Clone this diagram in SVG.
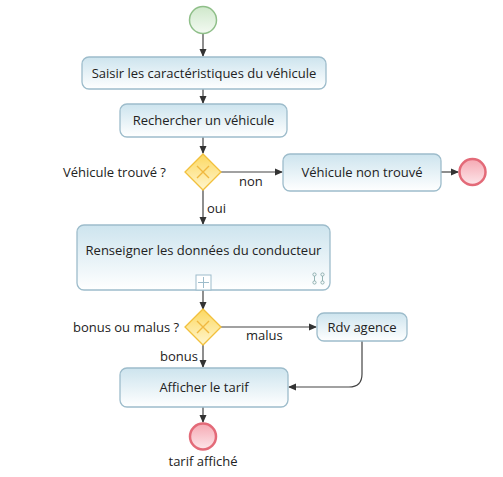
<svg xmlns="http://www.w3.org/2000/svg" width="503" height="477" viewBox="0 0 503 477">
<style>
.task{fill:url(#tg);stroke:#9dbccb;stroke-width:1.3}
.t{font-family:"Open Sans","Noto Sans",sans-serif;font-size:13px;fill:#222}
.m{text-anchor:middle}
.c{fill:none;stroke:#444;stroke-width:1.2;marker-end:url(#ah)}
.gw{fill:url(#gg);stroke:#f2c03c;stroke-width:1.3}
.gx{stroke:#f0b840;stroke-width:1.4}
.end{fill:url(#eg);stroke:#e36a78;stroke-width:2.5}
</style>
<defs>
<linearGradient id="tg" x1="0" y1="0" x2="0" y2="1"><stop offset="0" stop-color="#cde4ee"/><stop offset="1" stop-color="#ffffff"/></linearGradient>
<linearGradient id="gg" x1="0" y1="0" x2="0" y2="1"><stop offset="0" stop-color="#fcd860"/><stop offset="1" stop-color="#fff6cf"/></linearGradient>
<linearGradient id="sg" x1="0" y1="0" x2="0" y2="1"><stop offset="0" stop-color="#cfe8cb"/><stop offset="1" stop-color="#f3faf2"/></linearGradient>
<linearGradient id="eg" x1="0" y1="0" x2="0" y2="1"><stop offset="0" stop-color="#f5a9b3"/><stop offset="1" stop-color="#fde6ea"/></linearGradient>
<marker id="ah" markerWidth="8" markerHeight="8" refX="7" refY="4" orient="auto" markerUnits="userSpaceOnUse"><path d="M0,0.5 L8,4 L0,7.5 Z" fill="#333"/></marker>
</defs>
<g id="connectors">
<path class="c" d="M203,33 V56"/>
<path class="c" d="M203,89 V103"/>
<path class="c" d="M203,137 V153"/>
<path class="c" d="M221,172 H282"/>
<path class="c" d="M441,172 H458"/>
<path class="c" d="M203,190 V224"/>
<path class="c" d="M203,290 V309"/>
<path class="c" d="M221,327 H316"/>
<path class="c" d="M203,345 V367"/>
<path class="c" d="M362,341 V374 Q362,387 349,387 H289"/>
<path class="c" d="M203,407 V422"/>
</g>
<g id="start"><circle cx="203" cy="20" r="13.5" fill="url(#sg)" stroke="#8fbf89" stroke-width="1.5"/></g>
<g id="task1"><rect class="task" x="82" y="57" width="244" height="32" rx="7"/><text class="t m" x="204" y="78">Saisir les caractéristiques du véhicule</text></g>
<g id="task2"><rect class="task" x="120" y="104" width="167" height="33" rx="7"/><text class="t m" x="203.5" y="125">Rechercher un véhicule</text></g>
<g id="gw1"><path class="gw" d="M203,154 L221,172 L203,190 L185,172 Z"/><path class="gx" d="M197,166 L209,178 M209,166 L197,178"/>
<text class="t" x="63" y="177">Véhicule trouvé ?</text><text class="t" x="239" y="186">non</text><text class="t" x="207" y="213">oui</text></g>
<g id="task3"><rect class="task" x="283" y="154" width="158" height="37" rx="7"/><text class="t m" x="362" y="177">Véhicule non trouvé</text></g>
<g id="end1"><circle class="end" cx="472.5" cy="172" r="13"/></g>
<g id="task4"><rect class="task" x="77" y="225" width="253" height="65" rx="7"/><text class="t m" x="203.5" y="255">Renseigner les données du conducteur</text>
<rect x="196" y="275" width="15" height="15" fill="#fff" stroke="#9dbccb" stroke-width="1"/><path d="M203.5,277 V288 M198,282.5 H209" stroke="#9dbccb" stroke-width="1"/>
<g fill="none" stroke="#8aa" stroke-width="0.9"><circle cx="314.5" cy="274.5" r="1.6"/><circle cx="322.5" cy="274.5" r="1.6"/><circle cx="314.5" cy="282.5" r="1.6"/><circle cx="322.5" cy="282.5" r="1.6"/><path d="M314.5,276 V281 M322.5,276 V281"/></g></g>
<g id="gw2"><path class="gw" d="M203,309 L221,327 L203,345 L185,327 Z"/><path class="gx" d="M197,321 L209,333 M209,321 L197,333"/>
<text class="t" x="73" y="332">bonus ou malus ?</text><text class="t" x="246" y="340">malus</text><text class="t" x="160" y="361">bonus</text></g>
<g id="task5"><rect class="task" x="317" y="313" width="90" height="28" rx="7"/><text class="t m" x="362" y="332">Rdv agence</text></g>
<g id="task6"><rect class="task" x="120" y="368" width="168" height="39" rx="7"/><text class="t m" x="204" y="392">Afficher le tarif</text></g>
<g id="end2"><circle class="end" cx="203" cy="436.5" r="13"/><text class="t m" x="203" y="466">tarif affiché</text></g>
</svg>
